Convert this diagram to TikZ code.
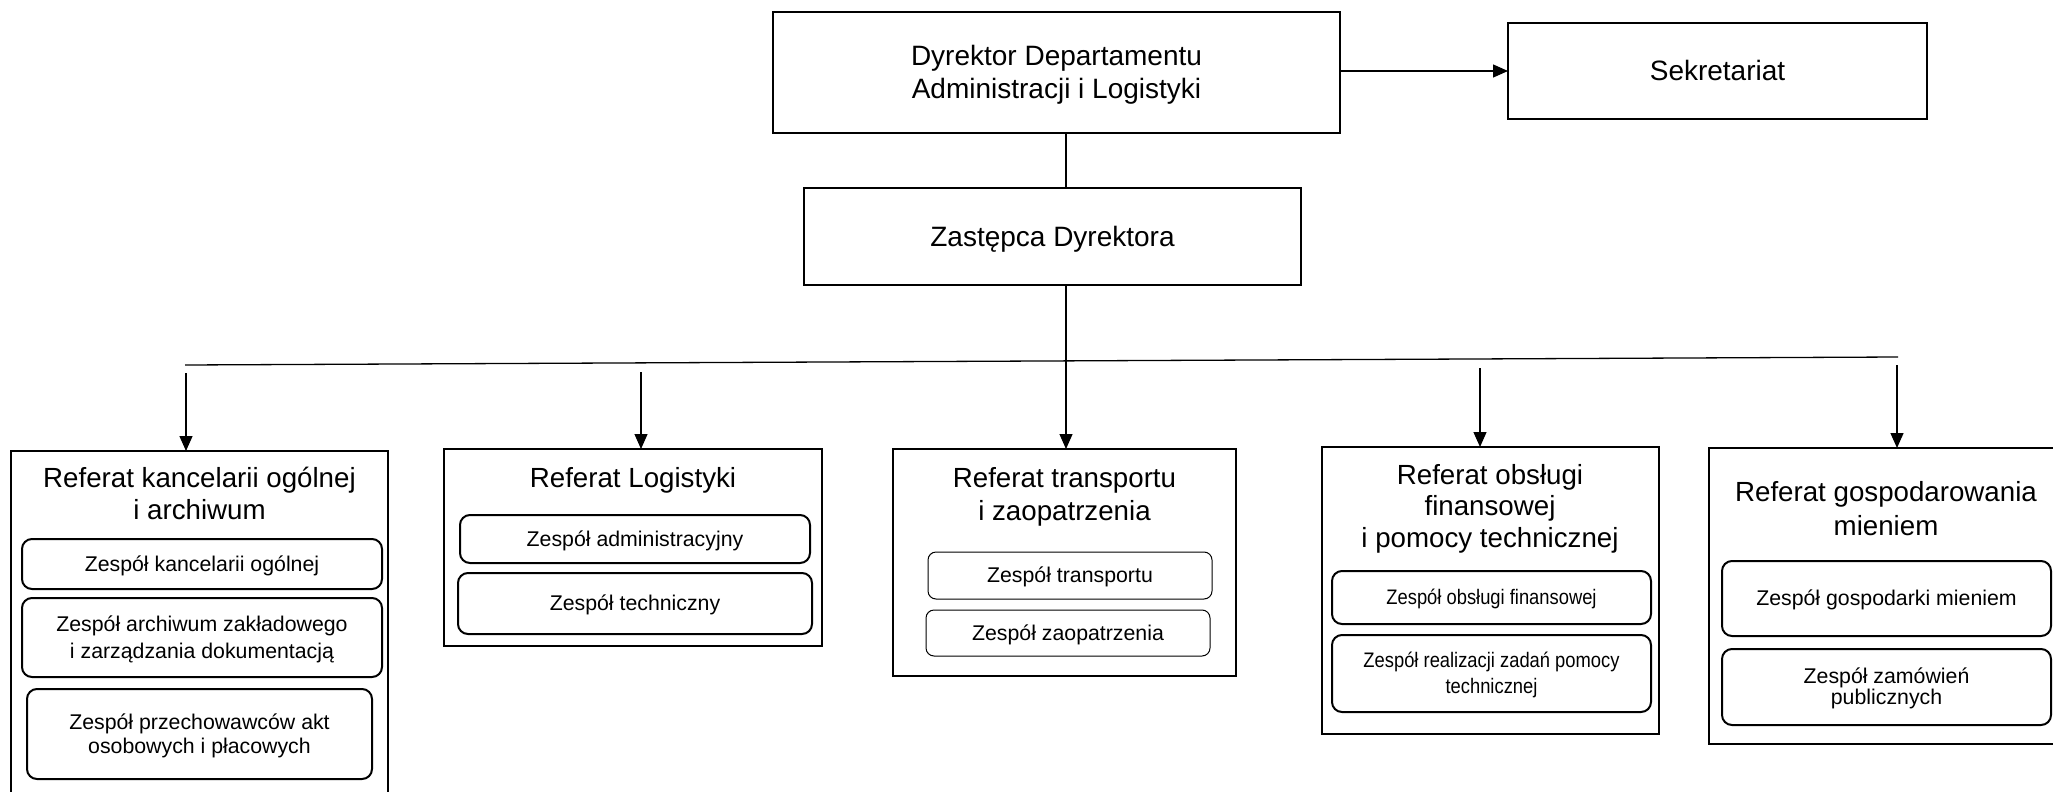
\documentclass[tikz,border=0pt]{standalone}
\usepackage{fontspec}
\setmainfont{Liberation Sans}
\newfontfamily\NarrowSans[FakeStretch=0.874]{Liberation Sans}
\usetikzlibrary{arrows.meta}
\newcommand\TopStr{\rule{0pt}{0.95em}}
\newcommand\BotStr{\rule[-0.25em]{0pt}{0.25em}}
\begin{document}
\begin{tikzpicture}[x=1pt,y=-1pt,
  box/.style={draw=black, line width=2.7pt, inner sep=0pt, outer sep=0pt, anchor=north west, align=center},
  sub/.style={draw=black, line width=2pt, rounded corners=10pt, inner sep=0pt, outer sep=0pt, anchor=north west, align=center, font=\fontsize{21.3}{25}\selectfont},
  thinsub/.style={sub, line width=1pt, rounded corners=8pt},
  reftitle/.style={anchor=north, inner sep=0pt, outer sep=0pt, align=center},
  conn/.style={draw=black, line width=1.3pt},
  arr/.style={conn, -{Triangle[length=15pt,width=13pt]}}
]
\useasboundingbox (0,0) rectangle (2053,792);
\clip (0,0) rectangle (2053,792);

% top level
\node[box, minimum width=567pt, minimum height=121pt, font=\fontsize{28}{33.3}\selectfont] (dyr) at (773,12) {\TopStr Dyrektor Departamentu\\Administracji i Logistyki\BotStr};
\node[box, minimum width=419pt, minimum height=96pt, font=\fontsize{28}{33}\selectfont] (sek) at (1508,23) {\TopStr Sekretariat\BotStr};
\node[box, minimum width=497pt, minimum height=97pt, font=\fontsize{28}{33}\selectfont] (zd) at (804,188) {\TopStr Zastępca Dyrektora\BotStr};

% referat containers
\node[box, minimum width=377pt, minimum height=349pt] (b1) at (11,451) {};
\node[box, minimum width=378pt, minimum height=197pt] (b2) at (444,449) {};
\node[box, minimum width=343pt, minimum height=227pt] (b3) at (893,449) {};
\node[box, minimum width=337pt, minimum height=287pt] (b4) at (1322,447) {};
\node[box, minimum width=354pt, minimum height=296pt] (b5) at (1709,448) {};

% referat titles
\node[reftitle, font=\fontsize{27.7}{32.5}\selectfont] (t1) at (199.5,460.7) {\TopStr Referat kancelarii ogólnej\\i archiwum};
\node[reftitle, font=\fontsize{27.7}{32.5}\selectfont] (t2) at (633,460.7) {\TopStr Referat Logistyki};
\node[reftitle, font=\fontsize{27.7}{33}\selectfont] (t3) at (1064.5,460.7) {\TopStr Referat transportu\\i zaopatrzenia};
\node[reftitle, font=\fontsize{27.7}{31.5}\selectfont] (t4) at (1490,457.7) {\TopStr Referat obsługi\\finansowej\\i pomocy technicznej};
\node[reftitle, font=\fontsize{27.7}{34}\selectfont] (t5) at (1886,474.7) {\TopStr Referat gospodarowania\\mieniem};

% zespoly
\node[sub, minimum width=360pt, minimum height=50pt] (s11) at (22,539) {\TopStr Zespół kancelarii ogólnej\BotStr};
\node[sub, minimum width=360pt, minimum height=79pt, font=\fontsize{21.3}{27}\selectfont] (s12) at (22,598) {\TopStr Zespół archiwum zakładowego\\i zarządzania dokumentacją\BotStr};
\node[sub, minimum width=345pt, minimum height=90pt, font=\fontsize{21.3}{24}\selectfont] (s13) at (27,689) {\TopStr Zespół przechowawców akt\\osobowych i płacowych\BotStr};
\node[sub, minimum width=350pt, minimum height=48pt] (s21) at (460,515) {\TopStr Zespół administracyjny\BotStr};
\node[sub, minimum width=354pt, minimum height=61pt] (s22) at (458,573) {\TopStr Zespół techniczny\BotStr};
\node[thinsub, minimum width=284pt, minimum height=47pt] (s31) at (928,552) {\TopStr Zespół transportu\BotStr};
\node[thinsub, minimum width=284pt, minimum height=46pt] (s32) at (926,610) {\TopStr Zespół zaopatrzenia\BotStr};
\node[sub, minimum width=319pt, minimum height=53pt, font=\NarrowSans\fontsize{21}{26}\selectfont] (s41) at (1332,571) {\TopStr Zespół obsługi finansowej\BotStr};
\node[sub, minimum width=319pt, minimum height=77pt, font=\NarrowSans\fontsize{21}{26}\selectfont] (s42) at (1332,635) {\TopStr Zespół realizacji zadań pomocy\\technicznej\BotStr};
\node[sub, minimum width=329pt, minimum height=75pt] (s51) at (1722,561) {\TopStr Zespół gospodarki mieniem\BotStr};
\node[sub, minimum width=329pt, minimum height=76pt, font=\fontsize{21.3}{21}\selectfont] (s52) at (1722,649) {\TopStr Zespół zamówień\\publicznych\BotStr};

% connectors
\coordinate (trunk) at (1066,0);
\draw[arr] (dyr.east |- sek.west) -- (sek.west);
\draw[conn] (dyr.south -| trunk) -- (zd.north -| trunk);
\draw[arr] (zd.south -| trunk) -- (b3.north -| trunk);

\coordinate (busL) at (185,365);
\coordinate (busR) at (1898,357);
\draw[conn] (busL) -- (busR);

\coordinate (a1) at (186,373);
\coordinate (a2) at (641,372);
\coordinate (a4) at (1480,368);
\coordinate (a5) at (1897,365);
\draw[arr] (a1) -- (a1 |- b1.north);
\draw[arr] (a2) -- (a2 |- b2.north);
\draw[arr] (a4) -- (a4 |- b4.north);
\draw[arr] (a5) -- (a5 |- b5.north);
\end{tikzpicture}
\end{document}
